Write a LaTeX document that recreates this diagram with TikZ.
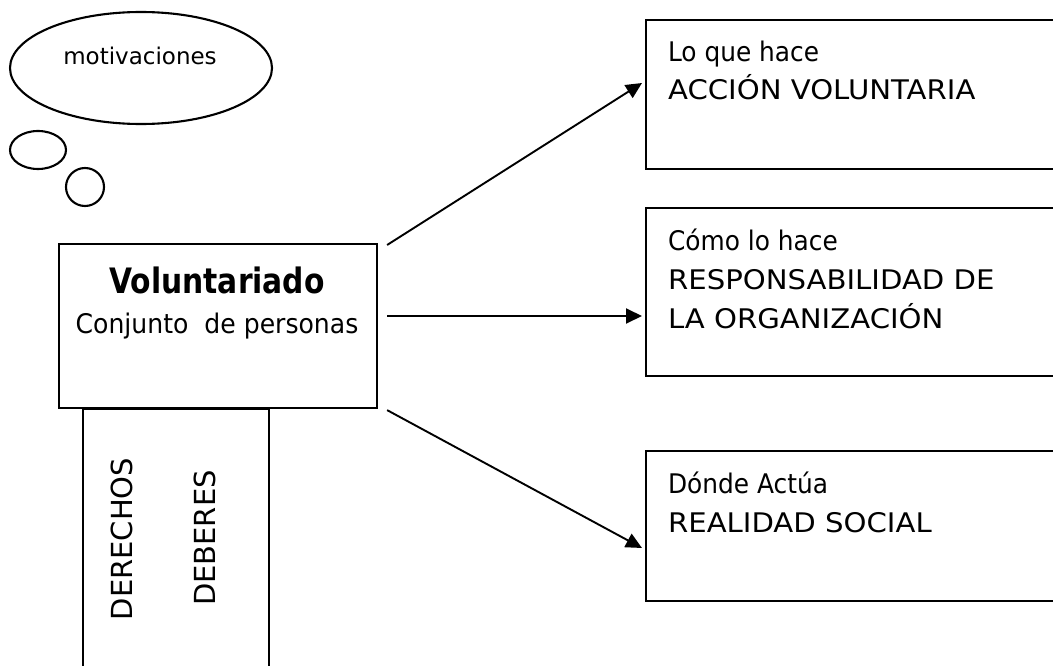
\documentclass[tikz,border=0pt]{standalone}
\usepackage{fontspec}
\setmainfont{DejaVu Sans}
\newfontfamily\capsfont[FakeStretch=1.08]{DejaVu Sans}
\newfontfamily\lowfont[FakeStretch=0.92]{DejaVu Sans}
\newfontfamily\subfont[FakeStretch=0.93]{DejaVu Sans}
\newfontfamily\titfont[FakeStretch=0.85]{DejaVu Sans Bold}
\usetikzlibrary{arrows.meta,shapes.geometric,calc}
\begin{document}
\begin{tikzpicture}[x=1pt,y=-1pt, line width=2.1pt,
  boxr/.style={draw, rectangle, inner sep=0pt, anchor=north west},
  bubble/.style={draw, ellipse, inner sep=0pt},
  captxt/.style={font=\capsfont\fontsize{27}{31}\selectfont, inner sep=0pt, anchor=base west},
  lowtxt/.style={font=\lowfont\fontsize{27}{31}\selectfont, inner sep=0pt, anchor=base west},
  ctxt/.style={inner sep=0pt, anchor=base},
  vtxt/.style={font=\fontsize{29}{33}\selectfont, inner sep=0pt, rotate=90},
  arr/.style={-{Triangle[length=16pt,width=15pt]}, line width=1.9pt}]
\useasboundingbox (0,0) rectangle (1053,666);
\clip (0,0) rectangle (1053,666);
% thought bubbles
\node[bubble, minimum width=262pt, minimum height=112pt] (mot) at (141,68) {};
\node[ctxt, font=\fontsize{23}{27}\selectfont] (mottxt) at (140,65) {motivaciones};
\node[bubble, minimum width=56pt, minimum height=38pt] (b01) at (38,150) {};
\node[bubble, minimum width=38pt, minimum height=38pt] (b02) at (85,187) {};
% main box
\node[boxr, minimum width=318pt, minimum height=164pt] (vol) at (58,243) {};
\node[ctxt, font=\titfont\fontsize{35}{40}\selectfont] (voltit) at (217,293) {Voluntariado};
\node[ctxt, font=\subfont\fontsize{27}{31}\selectfont] (volsub) at (217,333) {Conjunto\ \ de personas};
% rights/duties box
\node[boxr, minimum width=186pt, minimum height=300pt] (dd) at (82,408) {};
\node[vtxt] (der) at (122,539) {DERECHOS};
\node[vtxt] (deb) at (205,538) {DEBERES};
% right boxes
\node[boxr, minimum width=420pt, minimum height=149pt] (b1) at (645,19) {};
\node[boxr, minimum width=420pt, minimum height=168pt] (b2) at (645,207) {};
\node[boxr, minimum width=420pt, minimum height=150pt] (b3) at (645,450) {};
\node[lowtxt] (t1a) at (667,62) {Lo que hace};
\node[captxt] (t1b) at (667,100) {ACCIÓN VOLUNTARIA};
\node[lowtxt] (t2a) at (667,250) {Cómo lo hace};
\node[captxt] (t2b) at (667,289) {RESPONSABILIDAD DE};
\node[captxt] (t2c) at (667,328) {LA ORGANIZACIÓN};
\node[lowtxt] (t3a) at (667,493) {Dónde Actúa};
\node[captxt] (t3b) at (667,532) {REALIDAD SOCIAL};
% arrows
\draw[arr] ($(vol.north east)+(9,2)$) -- ($(b1.north west)+(-3,64)$);
\draw[arr] ($(vol.north east)+(9,73)$) -- ($(b2.north west)+(-3,109)$);
\draw[arr] ($(vol.south east)+(9,1)$) -- ($(b3.north west)+(-3,98)$);
\end{tikzpicture}
\end{document}
